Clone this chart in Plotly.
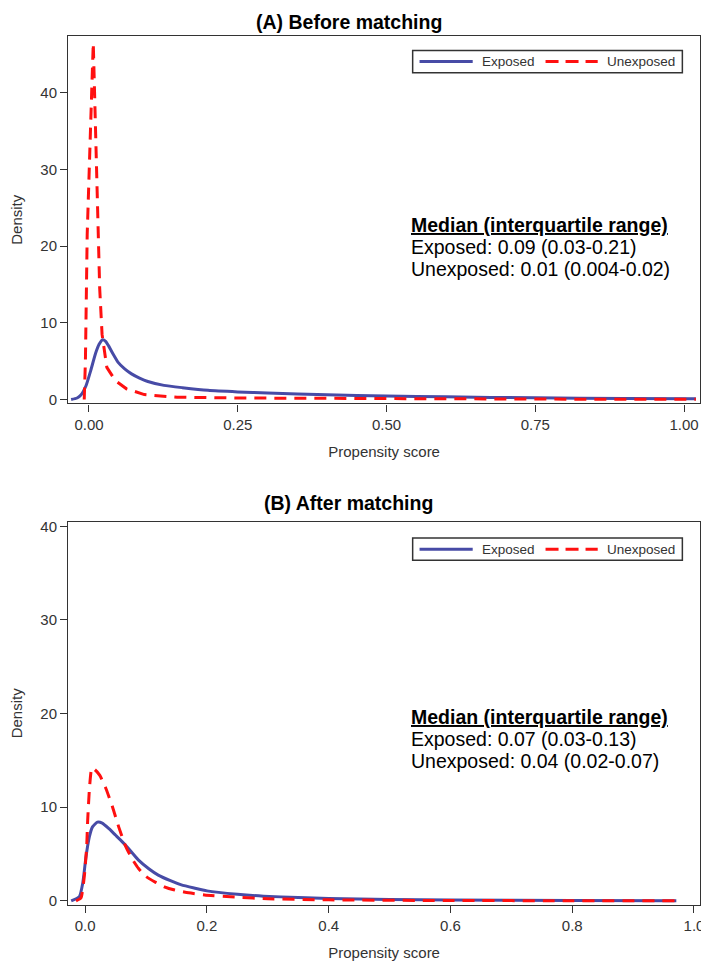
import plotly.graph_objects as go

# Panel A - before matching
a_exp_x = [-0.030, -0.020, -0.014, -0.005, 0.003, 0.011, 0.017, 0.023, 0.028, 0.033, 0.040, 0.049,
           0.060, 0.0715, 0.085, 0.099, 0.126, 0.157, 0.20, 0.25, 0.30, 0.40, 0.50, 0.60, 0.75, 0.90, 1.02]
a_exp_y = [0.0, 0.2, 0.55, 1.8, 3.8, 6.0, 7.2, 7.8, 7.6, 7.0, 6.0, 4.85,
           4.0, 3.35, 2.8, 2.36, 1.85, 1.55, 1.2, 1.0, 0.85, 0.62, 0.45, 0.35, 0.22, 0.14, 0.1]
a_unexp_x = [-0.008, -0.006, -0.003, 0.000, 0.0045, 0.0072, 0.0099, 0.012, 0.0148, 0.018, 0.022, 0.030,
             0.044, 0.063, 0.093, 0.148, 0.25, 0.50, 0.75, 1.02]
a_unexp_y = [0.0, 5.0, 21.5, 30.0, 40.0, 46.5, 38.6, 30.9, 21.4, 14.5, 8.5, 4.2,
             2.5, 1.4, 0.65, 0.3, 0.2, 0.1, 0.06, 0.04]

# Panel B - after matching
b_exp_x = [-0.023, -0.0095, -0.004, 0.0013, 0.0067, 0.012, 0.020, 0.028, 0.039, 0.050, 0.061, 0.075,
           0.0876, 0.105, 0.12, 0.14, 0.158, 0.18, 0.20, 0.25, 0.293, 0.35, 0.40, 0.50, 0.60, 0.80, 0.971]
b_exp_y = [0.0, 0.45, 1.9, 4.7, 6.8, 7.9, 8.4, 8.3, 7.7, 7.0, 6.3, 5.3,
           4.35, 3.4, 2.75, 2.15, 1.7, 1.35, 1.06, 0.7, 0.5, 0.35, 0.25, 0.14, 0.08, 0.03, 0.01]
b_unexp_x = [-0.015, -0.007, -0.0015, 0.0024, 0.004, 0.007, 0.011, 0.016, 0.024, 0.034, 0.045, 0.055,
             0.066, 0.076, 0.0876, 0.10, 0.115, 0.13, 0.147, 0.17, 0.196, 0.25, 0.30, 0.40, 0.60, 0.80, 0.971]
b_unexp_y = [0.0, 0.3, 2.6, 5.75, 8.5, 12.0, 14.2, 14.0, 13.4, 12.0, 10.0, 7.9,
             5.9, 4.6, 3.45, 2.6, 2.0, 1.5, 1.15, 0.85, 0.63, 0.38, 0.22, 0.1, 0.03, 0.015, 0.01]

titles = ["(A) Before matching", "(B) After matching"]
series_names = ["Exposed", "Unexposed"]
a_stats = ["Exposed: 0.09 (0.03-0.21)", "Unexposed: 0.01 (0.004-0.02)"]
b_stats = ["Exposed: 0.07 (0.03-0.13)", "Unexposed: 0.04 (0.02-0.07)"]
y_ticks = [0, 10, 20, 30, 40]

BLUE = "#474ba6"
RED = "#ff1010"
DASH = "12px,8px"
FONT = "Liberation Sans, Arial, sans-serif"
# the page body has an 8px margin, so the figure is 8px smaller and
# all reference pixel positions are shifted by that offset
OFF = 8
W, H = 709 - OFF, 961 - OFF

fig = go.Figure()
fig.add_trace(go.Scatter(x=a_exp_x, y=a_exp_y, mode="lines", name=series_names[0],
                         line=dict(color=BLUE, width=3, shape="spline", smoothing=0.5), xaxis="x", yaxis="y"))
fig.add_trace(go.Scatter(x=a_unexp_x, y=a_unexp_y, mode="lines", name=series_names[1],
                         line=dict(color=RED, width=3, dash=DASH), xaxis="x", yaxis="y"))
fig.add_trace(go.Scatter(x=b_exp_x, y=b_exp_y, mode="lines", name=series_names[0],
                         line=dict(color=BLUE, width=3, shape="spline", smoothing=0.5), xaxis="x2", yaxis="y2"))
fig.add_trace(go.Scatter(x=b_unexp_x, y=b_unexp_y, mode="lines", name=series_names[1],
                         line=dict(color=RED, width=3, dash=DASH, shape="spline", smoothing=0.5),
                         xaxis="x2", yaxis="y2"))


def px(v):
    return (v - OFF) / W


def py(v):
    return 1 - (v - OFF) / H


axis_common = dict(showline=True, linecolor="#333", linewidth=1.3, mirror=True, ticks="outside",
                   ticklen=7, tickcolor="#333", showgrid=False, zeroline=False,
                   tickfont=dict(family=FONT, size=15, color="#333"))
title_font = dict(family=FONT, size=15, color="#333")

fig.update_layout(
    width=W, height=H,
    margin=dict(l=0, r=0, t=0, b=0),
    paper_bgcolor="white", plot_bgcolor="white",
    showlegend=False,
    xaxis=dict(domain=[px(62), px(704)], range=[-0.035, 1.027], tickvals=[0, 0.25, 0.5, 0.75, 1.0],
               tickformat=".2f", anchor="y",
               title=dict(text="Propensity score", font=title_font, standoff=14), **axis_common),
    yaxis=dict(domain=[py(402.7), py(32.3)], range=[-0.5, 47.4], tickvals=y_ticks, anchor="x",
               title=dict(text="Density", font=title_font, standoff=22), **axis_common),
    xaxis2=dict(domain=[px(62), px(704)], range=[-0.028, 1.01], tickvals=[0, 0.2, 0.4, 0.6, 0.8, 1.0],
                tickformat=".1f", anchor="y2",
                title=dict(text="Propensity score", font=title_font, standoff=16), **axis_common),
    yaxis2=dict(domain=[py(908.3), py(522.3)], range=[-0.42, 40.47], tickvals=y_ticks, anchor="x2",
                title=dict(text="Density", font=title_font, standoff=22), **axis_common),
)

annotations = []
shapes = []
panels = [
    dict(title=titles[0], title_y=18, legend_top=46.7, legend_bot=69.3, stats=a_stats, stat_y=223),
    dict(title=titles[1], title_y=503, legend_top=538.5, legend_bot=561, stats=b_stats, stat_y=719.3),
]
for p in panels:
    annotations.append(dict(text="<b>%s</b>" % p["title"], x=px(347), y=py(p["title_y"]), xref="paper",
                            yref="paper", xanchor="center", yanchor="middle", showarrow=False,
                            font=dict(family=FONT, size=19.5, color="black")))
    # legend box
    shapes.append(dict(type="rect", xref="paper", yref="paper", x0=px(412), x1=px(686),
                       y0=py(p["legend_bot"]), y1=py(p["legend_top"]),
                       line=dict(color="#333", width=1.5), fillcolor="white"))
    ly = (p["legend_top"] + p["legend_bot"]) / 2
    shapes.append(dict(type="line", xref="paper", yref="paper", x0=px(419), x1=px(473), y0=py(ly), y1=py(ly),
                       line=dict(color=BLUE, width=3)))
    shapes.append(dict(type="line", xref="paper", yref="paper", x0=px(547), x1=px(600), y0=py(ly), y1=py(ly),
                       line=dict(color=RED, width=3, dash="13px,7px")))
    annotations.append(dict(text=series_names[0], x=px(480), y=py(ly), xref="paper", yref="paper",
                            xanchor="left", yanchor="middle", showarrow=False,
                            font=dict(family=FONT, size=13.5, color="#333")))
    annotations.append(dict(text=series_names[1], x=px(607), y=py(ly), xref="paper", yref="paper",
                            xanchor="left", yanchor="middle", showarrow=False,
                            font=dict(family=FONT, size=13.5, color="#333")))
    # median / IQR text
    lines = ["<b><u>Median (interquartile range)</u></b>"] + p["stats"]
    for i, t in enumerate(lines):
        annotations.append(dict(text=t, x=px(408), y=py(p["stat_y"] + 22 * i), xref="paper", yref="paper",
                                xanchor="left", yanchor="middle", showarrow=False,
                                font=dict(family=FONT, size=19.5, color="black")))

fig.update_layout(annotations=annotations, shapes=shapes)

fig.write_html("out.html")
